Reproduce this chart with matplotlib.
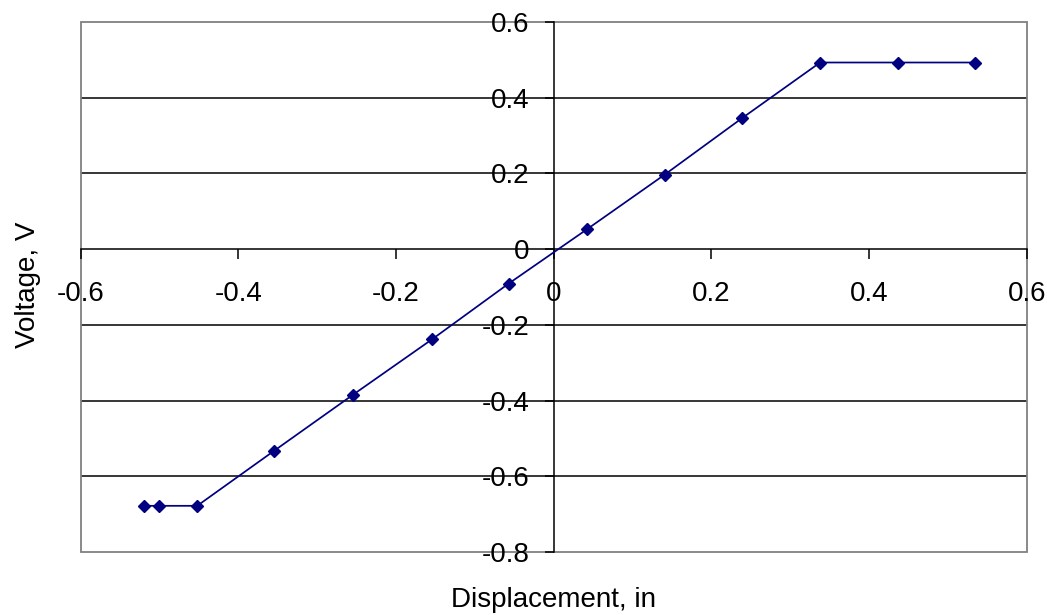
import matplotlib
matplotlib.use("Agg")
import matplotlib.pyplot as plt
from matplotlib.patches import Rectangle

# Data
displacement = [-0.520, -0.501, -0.452, -0.354, -0.254, -0.154, -0.057,
                0.042, 0.141, 0.239, 0.338, 0.437, 0.535]
voltage = [-0.678, -0.678, -0.678, -0.532, -0.384, -0.238, -0.091,
           0.052, 0.197, 0.346, 0.493, 0.493, 0.493]

x_ticks = [-0.6, -0.4, -0.2, 0.0, 0.2, 0.4, 0.6]
x_tick_labels = ["-0.6", "-0.4", "-0.2", "0", "0.2", "0.4", "0.6"]
y_ticks = [-0.8, -0.6, -0.4, -0.2, 0.0, 0.2, 0.4, 0.6]
y_tick_labels = ["-0.8", "-0.6", "-0.4", "-0.2", "0", "0.2", "0.4", "0.6"]
grid_levels = [-0.6, -0.4, -0.2, 0.2, 0.4]

plt.rcParams['font.family'] = ['Liberation Sans', 'DejaVu Sans']

W, H = 1047, 615
fig = plt.figure(figsize=(W / 100, H / 100), dpi=100)
left_px, right_px, top_px, bottom_px = 80.5, 1026.7, 22, 552
ax = fig.add_axes([left_px / W, 1 - bottom_px / H,
                   (right_px - left_px) / W, (bottom_px - top_px) / H])

ax.set_xlim(-0.6, 0.6)
ax.set_ylim(-0.8, 0.6)

# horizontal gridlines
for g in grid_levels:
    ax.axhline(g, color='black', lw=1.1, zorder=1)

# spines: axis lines crossing at zero
ax.spines['left'].set_position(('data', 0))
ax.spines['bottom'].set_position(('data', 0))
ax.spines['left'].set_color('black')
ax.spines['bottom'].set_color('black')
ax.spines['left'].set_linewidth(1.1)
ax.spines['bottom'].set_linewidth(1.1)
ax.spines['top'].set_visible(False)
ax.spines['right'].set_visible(False)
ax.spines['left'].set_zorder(2)
ax.spines['bottom'].set_zorder(2)

# gray plot-area border
ax.add_patch(Rectangle((0, 0), 1, 1, transform=ax.transAxes, fill=False,
                       edgecolor='#808080', lw=1.3, zorder=1.5, clip_on=False))

ax.set_xticks(x_ticks)
ax.set_xticklabels(x_tick_labels)
ax.set_yticks(y_ticks)
ax.set_yticklabels(y_tick_labels)
ax.tick_params(axis='x', direction='out', length=7, width=1.1, pad=16,
               labelsize=20, color='black')
ax.tick_params(axis='y', direction='out', length=6.5, width=1.1, pad=11,
               labelsize=20, color='black')

ax.plot(displacement, voltage, color='#000080', lw=1.25, marker='D',
        markersize=6.5, markerfacecolor='#000080', markeredgecolor='#000080',
        zorder=3, clip_on=False)

fig.text(553.6 / W, 1 - 600 / H, "Displacement, in", ha='center', va='center',
         fontsize=20)
fig.text(28 / W, 1 - 285 / H, "Voltage, V", ha='center', va='center',
         rotation=90, fontsize=20)

fig.savefig("out.png", dpi=100, facecolor='white')
